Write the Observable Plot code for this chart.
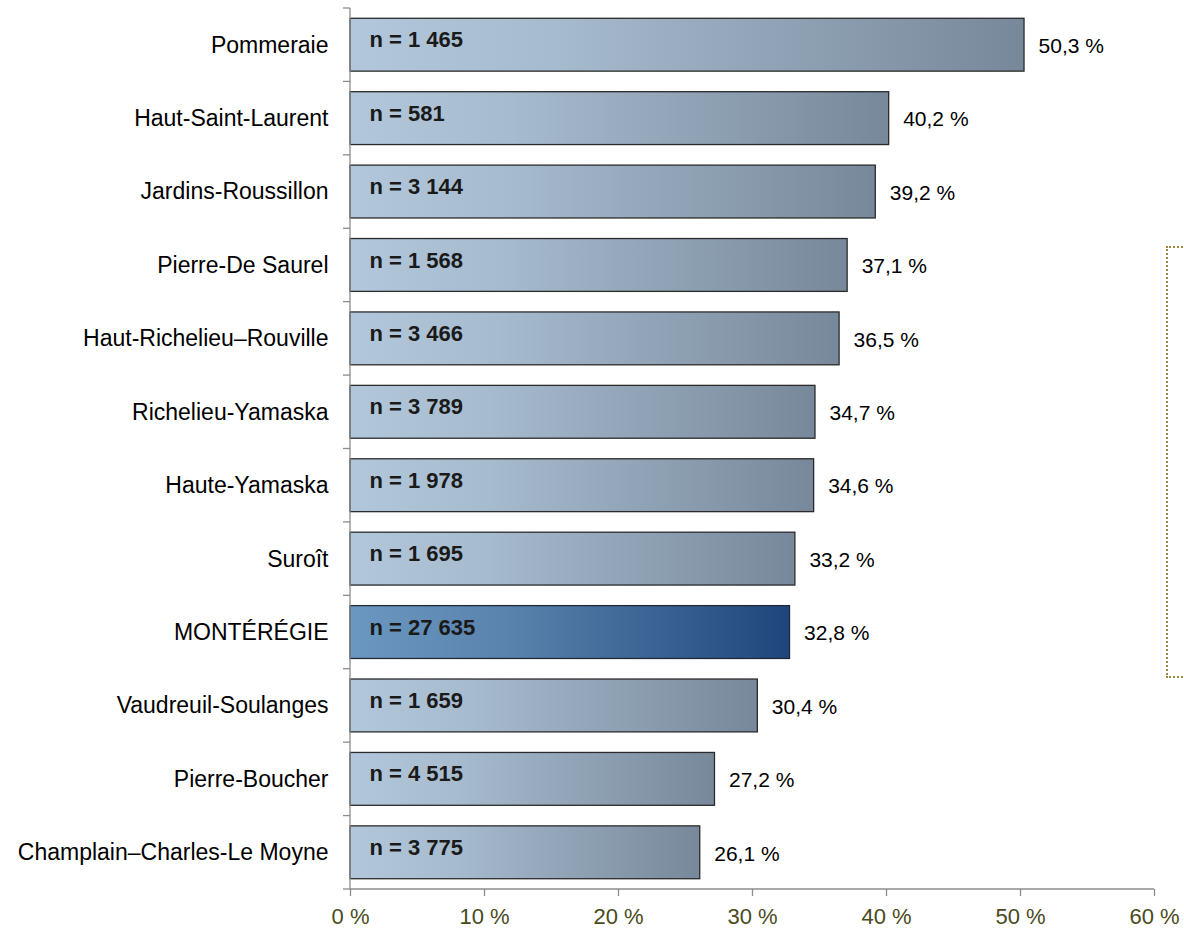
<!DOCTYPE html>
<html>
<head>
<meta charset="utf-8">
<script src="https://cdn.jsdelivr.net/npm/d3@7"></script>
<script src="https://cdn.jsdelivr.net/npm/@observablehq/plot@0.6"></script>
<style>
  html, body { margin: 0; padding: 0; background: #fff; }
  #wrap { position: relative; width: 1184px; height: 928px; overflow: hidden; }
  #box { position: absolute; left: 1166px; top: 246px; width: 100px; height: 432px;
         border: 2px dotted #a08446; box-sizing: border-box; }
</style>
</head>
<body>
<div id="wrap"><div id="box"></div></div>
<script>
const categories = ["Pommeraie", "Haut-Saint-Laurent", "Jardins-Roussillon", "Pierre-De Saurel",
  "Haut-Richelieu–Rouville", "Richelieu-Yamaska", "Haute-Yamaska", "Suroît", "MONTÉRÉGIE",
  "Vaudreuil-Soulanges", "Pierre-Boucher", "Champlain–Charles-Le Moyne"];
const values = [50.3, 40.2, 39.2, 37.1, 36.5, 34.7, 34.6, 33.2, 32.8, 30.4, 27.2, 26.1];
const counts = [1465, 581, 3144, 1568, 3466, 3789, 1978, 1695, 27635, 1659, 4515, 3775];
const totalName = "MONTÉRÉGIE";
const xTicks = [0, 10, 20, 30, 40, 50, 60];
const xDomain = [0, 60];

const data = categories.map((name, i) => ({name, value: values[i], n: counts[i], total: name === totalName}));
const fr = d3.formatLocale({decimal: ",", thousands: "\u00a0", grouping: [3], currency: ["", " €"]});
const fmtN = fr.format(",d");
const fmtV = v => v.toFixed(1).replace(".", ",") + " %";

const paddingInner = 0.28;

function axesLines(index, scales, values, dimensions) {
  const y = scales.y, x = scales.x;
  const {height, marginTop, marginBottom} = dimensions;
  const step = y.step ? y.step() : (height - marginTop - marginBottom) / categories.length;
  const x0 = x(xDomain[0]), x1 = x(xDomain[1]);
  const yBottom = height - marginBottom;
  const g = d3.create("svg:g").attr("stroke", "#8c8c8c").attr("stroke-width", 1.3);
  const bounds = categories.map(c => y(c) - step * paddingInner / 2);
  bounds.push(yBottom);
  for (const b of bounds) g.append("line").attr("x1", x0 - 7).attr("x2", x0).attr("y1", b).attr("y2", b);
  g.append("line").attr("x1", x0).attr("x2", x0).attr("y1", bounds[0]).attr("y2", yBottom);
  g.append("line").attr("x1", x0).attr("x2", x1).attr("y1", yBottom).attr("y2", yBottom);
  return g.node();
}

const chart = Plot.plot({
  width: 1184,
  height: 928,
  marginLeft: 350,
  marginRight: 30,
  marginTop: 8,
  marginBottom: 39,
  style: {fontFamily: "'Liberation Sans', Arial, sans-serif", background: "#fff", color: "#000"},
  x: {domain: xDomain, label: null},
  y: {domain: categories, paddingInner: paddingInner, paddingOuter: paddingInner / 2, round: false, label: null},
  marks: [
    Plot.barX(data.filter(d => !d.total), {x: "value", y: "name", fill: "url(#gradBar)", stroke: "#2b2b2b", strokeWidth: 1.3}),
    Plot.barX(data.filter(d => d.total), {x: "value", y: "name", fill: "url(#gradTotal)", stroke: "#1f2a38", strokeWidth: 1.3}),
    axesLines,
    Plot.axisY({tickSize: 0, tickPadding: 22, fontSize: 23, fill: "#000", label: null}),
    Plot.axisX({ticks: xTicks, tickFormat: d => d + " %", tickSize: 7, tickPadding: 12,
      stroke: "#8c8c8c", strokeWidth: 1.3, fill: "#4a4a1c", fontSize: 22, label: null}),
    Plot.text(data, {x: 0, y: "name", text: d => "n = " + fmtN(d.n), textAnchor: "start",
      dx: 19, dy: -5, fontWeight: "bold", fontSize: 22, fill: "#1a1a1a"}),
    Plot.text(data, {x: "value", y: "name", text: d => fmtV(d.value), textAnchor: "start",
      dx: 14, dy: 1, fontSize: 21, fill: "#000"})
  ]
});

chart.insertAdjacentHTML("afterbegin", `
<defs>
  <linearGradient id="gradBar" x1="0" y1="0" x2="1" y2="0">
    <stop offset="0" stop-color="#b2c7db"/>
    <stop offset="0.3" stop-color="#a7bbce"/>
    <stop offset="1" stop-color="#77889a"/>
  </linearGradient>
  <linearGradient id="gradTotal" x1="0" y1="0" x2="1" y2="0">
    <stop offset="0" stop-color="#6b98c0"/>
    <stop offset="0.35" stop-color="#5a83ad"/>
    <stop offset="1" stop-color="#1f467c"/>
  </linearGradient>
</defs>`);

document.getElementById("wrap").prepend(chart);
</script>
</body>
</html>
